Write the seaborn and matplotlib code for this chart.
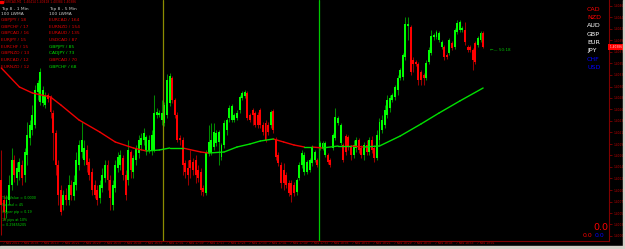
import numpy as np
import pandas as pd
import matplotlib
matplotlib.use("Agg")
import matplotlib.pyplot as plt
import matplotlib.transforms as mtransforms
from matplotlib.patches import Rectangle
import seaborn as sns

# ---------------- data ----------------
symbol = "EURCAD,M1"
base_price = 1.40000          # bar prices below are in points (1e-5) above base_price
start_time = "2011-11-07 15:58"

open_pts = [120, 80, 56, 80, 110, 160, 124, 136, 150, 130,
            170, 204, 220, 230, 296, 276, 274, 270, 290, 286,
            254, 214, 150, 100, 70, 90, 80, 110, 88, 110,
            150, 176, 160, 180, 156, 136, 110, 100, 84, 104,
            124, 150, 120, 70, 104, 144, 150, 164, 130, 120,
            176, 136, 160, 174, 190, 200, 180, 180, 180, 180,
            250, 250, 240, 234, 250, 274, 324, 280, 250, 204,
            200, 154, 144, 160, 156, 160, 140, 136, 104, 94,
            174, 174, 186, 194, 196, 166, 190, 220, 244, 240,
            240, 244, 260, 284, 288, 294, 250, 260, 254, 250,
            260, 230, 234, 230, 230, 258, 200, 170, 150, 140,
            130, 114, 114, 110, 96, 124, 150, 136, 136, 140,
            154, 160, 160, 184, 184, 170, 170, 160, 184, 204,
            234, 194, 190, 208, 206, 186, 170, 184, 200, 184,
            170, 190, 176, 200, 184, 164, 200, 220, 230, 250,
            264, 280, 286, 300, 324, 326, 366, 428, 426, 360,
            356, 352, 336, 330, 324, 356, 374, 406, 406, 400,
            386, 386, 370, 374, 394, 386, 416, 420, 420, 420,
            386, 386, 380, 394, 390, 400, 414]
close_pts = [70, 56, 80, 110, 160, 130, 144, 156, 124, 176,
             210, 230, 250, 300, 314, 336, 300, 290, 282, 256,
             214, 150, 90, 56, 90, 80, 110, 90, 116, 160,
             190, 200, 184, 150, 130, 100, 90, 80, 110, 130,
             150, 120, 84, 110, 150, 166, 170, 130, 90, 180,
             140, 164, 184, 200, 204, 214, 206, 200, 210, 254,
             256, 254, 254, 270, 320, 328, 280, 250, 200, 200,
             150, 136, 130, 144, 140, 130, 124, 100, 96, 176,
             196, 200, 216, 214, 216, 190, 234, 240, 264, 268,
             250, 254, 286, 294, 296, 244, 240, 250, 230, 230,
             230, 216, 200, 216, 256, 220, 166, 154, 114, 114,
             110, 94, 90, 94, 120, 150, 174, 170, 156, 160,
             186, 176, 150, 194, 194, 194, 156, 150, 210, 246,
             244, 230, 160, 176, 186, 170, 190, 200, 180, 170,
             190, 176, 200, 180, 164, 210, 236, 240, 260, 280,
             284, 290, 306, 324, 340, 370, 432, 432, 336, 352,
             352, 320, 320, 324, 354, 380, 408, 410, 416, 414,
             396, 366, 366, 400, 384, 420, 434, 436, 424, 396,
             380, 380, 360, 356, 404, 414, 386]
high_pts = [180, 90, 90, 130, 184, 170, 156, 164, 160, 184,
            236, 240, 270, 310, 320, 344, 308, 296, 294, 290,
            260, 220, 160, 110, 100, 104, 130, 120, 130, 176,
            200, 236, 200, 190, 164, 144, 120, 110, 120, 144,
            160, 160, 130, 120, 160, 176, 180, 170, 140, 200,
            180, 170, 190, 210, 214, 224, 210, 210, 220, 290,
            264, 260, 280, 276, 332, 334, 328, 284, 256, 210,
            206, 160, 160, 180, 164, 170, 150, 144, 110, 180,
            230, 234, 234, 220, 220, 194, 240, 244, 270, 272,
            254, 260, 290, 298, 300, 298, 254, 264, 258, 256,
            264, 236, 240, 236, 260, 262, 206, 176, 156, 154,
            136, 120, 120, 116, 124, 156, 180, 176, 160, 164,
            190, 180, 164, 198, 198, 198, 174, 164, 214, 264,
            248, 234, 194, 212, 210, 190, 200, 206, 204, 190,
            196, 200, 206, 208, 190, 220, 244, 250, 270, 290,
            290, 294, 310, 330, 344, 374, 446, 446, 430, 366,
            360, 356, 340, 334, 360, 386, 420, 414, 420, 418,
            400, 390, 374, 404, 398, 424, 440, 440, 428, 436,
            390, 390, 384, 398, 408, 418, 418]
low_pts = [10, 40, 44, 70, 100, 116, 110, 120, 110, 116,
           150, 190, 210, 224, 280, 270, 268, 264, 276, 244,
           160, 130, 70, 50, 60, 70, 70, 80, 80, 100,
           140, 164, 150, 136, 120, 90, 84, 70, 74, 96,
           116, 100, 60, 60, 96, 136, 140, 120, 80, 110,
           124, 124, 150, 164, 180, 190, 170, 174, 170, 176,
           244, 246, 230, 228, 244, 268, 274, 244, 196, 190,
           130, 124, 110, 124, 130, 114, 116, 90, 88, 90,
           168, 170, 180, 188, 150, 160, 184, 210, 236, 236,
           236, 240, 254, 280, 284, 240, 236, 230, 226, 224,
           224, 210, 196, 210, 224, 214, 160, 148, 104, 100,
           104, 88, 76, 88, 90, 120, 144, 130, 132, 136,
           148, 156, 146, 180, 180, 166, 152, 146, 180, 200,
           230, 190, 156, 170, 180, 160, 164, 176, 174, 164,
           160, 170, 170, 174, 156, 160, 190, 214, 224, 244,
           256, 276, 280, 290, 320, 320, 360, 400, 330, 336,
           348, 310, 310, 310, 320, 352, 370, 400, 402, 396,
           382, 360, 362, 370, 380, 382, 412, 416, 416, 390,
           376, 376, 340, 352, 386, 396, 384]

# 100 LWMA read at selected bars
ma_bar = [0, 7, 12, 19, 23, 30, 38, 44, 51, 56, 61, 65, 70, 77, 80, 86, 91,
          96, 100, 105, 109, 113, 117, 120, 124, 130, 135, 140, 146, 154,
          162, 169, 177, 186]
ma_pts = [344, 306, 294, 286, 270, 240, 216, 196, 184, 178, 180, 184, 184,
          176, 174, 176, 186, 192, 198, 202, 196, 190, 186, 186, 184, 188,
          188, 186, 188, 208, 232, 254, 278, 304]

session_bars = [62.3, 122.8]
session_colors = ["#8c8c00", "#00c800"]

top1_pairs = ["GBPJPY", "GBPCHF", "GBPCAD", "EURJPY", "EURCHF", "GBPNZD", "EURCAD", "EURNZD"]
top1_values = [18, 17, 16, 15, 15, 13, 12, 12]
top1_colors = ["#e00000"] * 8
top5_pairs = ["EURCAD", "EURNZD", "EURAUD", "USDCAD", "GBPJPY", "CADJPY", "GBPCAD", "GBPCHF"]
top5_values = [164, 154, 135, 87, 85, 73, 70, 68]
top5_colors = ["#e00000", "#e00000", "#e00000", "#e00000", "#00e000", "#00e000", "#e00000", "#00e000"]

currencies = ["CAD", "NZD", "AUD", "GBP", "EUR", "JPY", "CHF", "USD"]
currency_colors = ["#ff0000", "#ff0000", "#ffffff", "#ffffff", "#ffffff", "#ffffff", "#0000ff", "#0000ff"]

info_lines = ["Tick Value = 0.0000", "Spread = 45", "$1 per pip = 0.19", "19 pips at 10%", "= 0.29455205"]
timer_text = "\u2190\u2014 50:18"

# ---------------- build ----------------
o = base_price + np.array(open_pts) * 1e-5
c = base_price + np.array(close_pts) * 1e-5
h = base_price + np.array(high_pts) * 1e-5
l = base_price + np.array(low_pts) * 1e-5
n = len(o)
idx = np.arange(n)
up = c >= o
times = pd.date_range(start_time, periods=n, freq="min")

sns.set_theme(style="dark", rc={"axes.facecolor": "black", "figure.facecolor": "black"})
plt.rcParams["font.family"] = ["DejaVu Sans"]

W, H = 625, 249
fig = plt.figure(figsize=(W / 100, H / 100), dpi=100, facecolor="black")
ax = fig.add_axes([0, (H - 241) / H, 609 / W, 241 / H])
ax.set_facecolor("black")

# session separators
for sb, sc in zip(session_bars, session_colors):
    ax.axvline(sb, color=sc, lw=0.9, zorder=1)

# candles
wick_cols = np.where(up, "#008a00", "#9a0000")
body_cols = np.where(up, "#00ff00", "#ff0000")
ax.vlines(idx, l, h, colors=wick_cols, linewidth=0.75, zorder=2)
ax.bar(idx, np.abs(c - o), bottom=np.minimum(o, c), width=0.75,
       color=body_cols, linewidth=0, zorder=3)

# moving average coloured by direction
ma_price = base_price + np.array(ma_pts) * 1e-5
rows = []
for k in range(len(ma_bar) - 1):
    d = "up" if ma_price[k + 1] >= ma_price[k] else "down"
    rows.append(dict(bar=ma_bar[k], price=ma_price[k], seg=k, dir=d))
    rows.append(dict(bar=ma_bar[k + 1], price=ma_price[k + 1], seg=k, dir=d))
ma_df = pd.DataFrame(rows)
sns.lineplot(data=ma_df, x="bar", y="price", hue="dir", units="seg", estimator=None,
             palette={"up": "#00e000", "down": "#f00000"}, legend=False,
             linewidth=1.0, sort=False, ax=ax, zorder=4)

ax.set_xlim(-0.502, 234.6)
ax.set_ylim(base_price - 2e-5, base_price + 480e-5)
ax.set_xlabel("")
ax.set_ylabel("")
ax.grid(False)

for side in ["left", "top"]:
    ax.spines[side].set_visible(False)
for side in ["right", "bottom"]:
    ax.spines[side].set_visible(True)
    ax.spines[side].set_color("#800000")
    ax.spines[side].set_linewidth(0.8)

# price axis
ytick_vals = base_price + (8 + 23 * np.arange(21)) * 1e-5
ax.yaxis.tick_right()
ax.set_yticks(ytick_vals)
ax.set_yticklabels([f"{v:.5f}" for v in ytick_vals])
ax.tick_params(axis="y", which="both", direction="out", length=2.5, width=0.6,
               color="#800000", labelcolor="#c00000", labelsize=2.1, pad=0.6)

# time axis
xt = [0] + list(range(7, n, 8))
xl = [f"{times[0].day} {times[0]:%b %Y}"] + [f"{times[i].day} {times[i]:%b %H:%M}" for i in xt[1:]]
ax.set_xticks(xt)
ax.set_xticklabels(xl)
ax.tick_params(axis="x", which="both", direction="out", length=3.5, width=0.6,
               color="#800000", labelcolor="#c00000", labelsize=2.1, pad=-3.2)
off = mtransforms.ScaledTranslation(1.2 / 100, 0, fig.dpi_scale_trans)
for lbl in ax.get_xticklabels():
    lbl.set_ha("left")
    lbl.set_transform(lbl.get_transform() + off)

# current price marker
bt = mtransforms.blended_transform_factory(ax.transAxes, ax.transData)
ax.text(1.0, c[-1], f" {c[-1]:.5f}  ", transform=bt, ha="left", va="center",
        fontsize=2.1, color="#ffd0d0",
        bbox=dict(boxstyle="square,pad=0.35", fc="#ff0000", ec="none"), zorder=6)

# timer label
ax.text(n + 1.5, c[-1] - 6e-5, timer_text, ha="left", va="center", fontsize=3.0,
        color="#00c000", zorder=6)


def ftxt(x, y, s, **kw):
    fig.text(x / W, 1 - y / H, s, va="center", **kw)


# header line
fig.patches.append(Rectangle((0, 1 - 2.6 / H), 3 / W, 1.2 / H, transform=fig.transFigure,
                             color="#ff0000"))
ftxt(4, 2.2, f"{symbol}  {o[-1]:.5f} {h[-1]:.5f} {l[-1]:.5f} {c[-1]:.5f}",
     fontsize=2.2, color="#d00000")

# top-8 tables
for col_x, head, pairs, vals, cols in [(1, "Top 8 - 1 Min", top1_pairs, top1_values, top1_colors),
                                        (49, "Top 8 - 5 Min", top5_pairs, top5_values, top5_colors)]:
    ftxt(col_x, 8.7, head, fontsize=3.2, color="#c8c8c8")
    ftxt(col_x, 14.3, "100 LWMA", fontsize=3.2, color="#c8c8c8")
    for k, (p, v, cc) in enumerate(zip(pairs, vals, cols)):
        ftxt(col_x, 20 + 6.67 * k, f"{p} / {v}", fontsize=3.2, color=cc)

# info lines
for k, s in enumerate(info_lines):
    ftxt(2, [197.7, 205, 212.3, 219.5, 225][k], s, fontsize=2.4, color="#00d000")

# currency strength list
for k, (cur, cc) in enumerate(zip(currencies, currency_colors)):
    ftxt(587, 9.3 + 8.3 * k, cur, fontsize=4.6, color=cc)

# bottom right readouts
ftxt(593, 227, "0.0", fontsize=6.8, color="#ff0000")
ftxt(583, 235.8, "0.0", fontsize=4.4, color="#ff0000")
ftxt(595, 235.8, "0.0", fontsize=4.4, color="#0000ff")

# window borders
fig.patches.append(Rectangle((623 / W, 0), 2 / W, 1, transform=fig.transFigure, color="#d4d0c8"))
fig.patches.append(Rectangle((0, 0), 1, 3 / H, transform=fig.transFigure, color="#d4d0c8"))

fig.savefig("out.png", dpi=100, facecolor="black")
